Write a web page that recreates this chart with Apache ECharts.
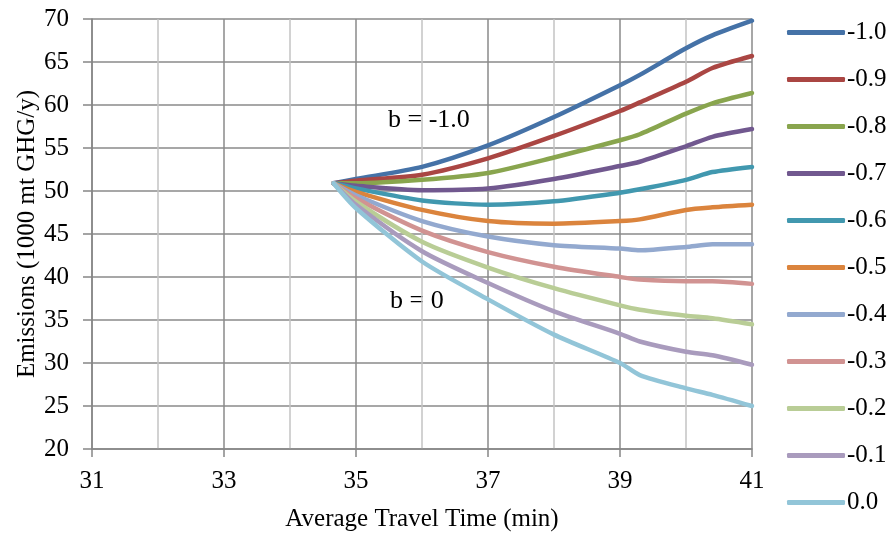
<!DOCTYPE html>
<html>
<head>
<meta charset="utf-8">
<script src="https://cdn.jsdelivr.net/npm/echarts@6/dist/echarts.min.js"></script>
<style>html,body{margin:0;padding:0;background:#fff;}#c{width:894px;height:533px;}</style>
</head>
<body>
<div id="c"></div>
<script>
const travelTime = [34.66, 35, 36, 37, 38, 39, 39.3, 40, 40.4, 41];
const seriesNames = ['-1.0','-0.9','-0.8','-0.7','-0.6','-0.5','-0.4','-0.3','-0.2','-0.1','0.0'];
const b_m10 = [50.9, 51.4, 52.8, 55.3, 58.6, 62.3, 63.5, 66.6, 68.1, 69.8];
const b_m09 = [50.9, 51.2, 51.9, 53.8, 56.4, 59.3, 60.3, 62.7, 64.3, 65.7];
const b_m08 = [50.9, 50.9, 51.3, 52.1, 53.9, 55.9, 56.6, 59.0, 60.2, 61.4];
const b_m07 = [50.9, 50.6, 50.1, 50.3, 51.4, 52.9, 53.4, 55.2, 56.3, 57.2];
const b_m06 = [50.9, 50.3, 48.9, 48.4, 48.8, 49.8, 50.2, 51.3, 52.2, 52.8];
const b_m05 = [50.9, 49.9, 47.8, 46.5, 46.2, 46.5, 46.7, 47.8, 48.1, 48.4];
const b_m04 = [50.9, 49.5, 46.5, 44.7, 43.7, 43.3, 43.1, 43.5, 43.8, 43.8];
const b_m03 = [50.9, 49.15, 45.4, 42.9, 41.2, 40.0, 39.7, 39.5, 39.5, 39.2];
const b_m02 = [50.9, 48.75, 44.1, 41.1, 38.7, 36.7, 36.2, 35.5, 35.2, 34.5];
const b_m01 = [50.9, 48.4, 43.0, 39.3, 36.0, 33.4, 32.5, 31.3, 30.9, 29.8];
const b_00  = [50.9, 48.0, 41.8, 37.4, 33.3, 30.0, 28.6, 27.05, 26.3, 25.0];
const allValues = [b_m10,b_m09,b_m08,b_m07,b_m06,b_m05,b_m04,b_m03,b_m02,b_m01,b_00];
const colors = ['#4572A7','#AA4643','#89A54E','#71588F','#4198AF','#DB843D','#93A9CF','#D19392','#B9CD96','#A99BBD','#92C5D8'];

const font = 'Liberation Serif';
const fs = 25;
const chart = echarts.init(document.getElementById('c'));
chart.setOption({
  animation: false,
  color: colors,
  grid: {left: 92, right: 142, top: 19, bottom: 84, containLabel: false, outerBoundsMode: 'none'},
  textStyle: {fontFamily: font},
  legend: {
    orient: 'vertical', left: 787, top: 20, padding: 0,
    itemWidth: 58, itemHeight: 5, itemGap: 22,
    icon: 'roundRect',
    data: seriesNames,
    textStyle: {fontFamily: font, fontSize: fs, color: '#000', lineHeight: 20, padding: [0,0,0,-3]}
  },
  xAxis: {
    type: 'value', min: 31, max: 41, interval: 2,
    name: 'Average Travel Time (min)', nameLocation: 'middle', nameGap: 58, nameMoveOverlap: false,
    nameTextStyle: {fontFamily: font, fontSize: fs, color: '#000'},
    axisLine: {show: true, lineStyle: {color: '#868686', width: 1.5}},
    axisTick: {show: true, length: 8, lineStyle: {color: '#868686', width: 1.5}},
    axisLabel: {fontFamily: font, fontSize: fs, color: '#000', margin: 20},
    splitLine: {show: true, lineStyle: {color: '#8a8a8a', width: 1.5}},
    minorTick: {show: false, splitNumber: 2},
    minorSplitLine: {show: true, lineStyle: {color: '#c4c4c4', width: 1.5}}
  },
  yAxis: {
    type: 'value', min: 20, max: 70, interval: 5,
    name: 'Emissions (1000 mt GHG/y)', nameLocation: 'middle', nameGap: 52, nameMoveOverlap: false,
    nameTextStyle: {fontFamily: font, fontSize: fs, color: '#000'},
    axisLine: {show: true, lineStyle: {color: '#868686', width: 1.5}},
    axisTick: {show: true, length: 9, lineStyle: {color: '#868686', width: 1.5}},
    axisLabel: {fontFamily: font, fontSize: fs, color: '#000', margin: 23},
    splitLine: {show: true, lineStyle: {color: '#8a8a8a', width: 1.5}}
  },
  graphic: [
    {type: 'text', left: 388, top: 107, style: {text: 'b = -1.0', font: '26px "Liberation Serif"', fill: '#000'}},
    {type: 'text', left: 390, top: 288, style: {text: 'b = 0', font: '26px "Liberation Serif"', fill: '#000'}}
  ],
  series: seriesNames.map((n, i) => ({
    name: n, type: 'line', smooth: 0.25, symbol: 'none',
    lineStyle: {width: 4.5, color: colors[i], cap: 'round', join: 'round'},
    data: travelTime.map((t, k) => [t, allValues[i][k]])
  }))
});
</script>
</body>
</html>
